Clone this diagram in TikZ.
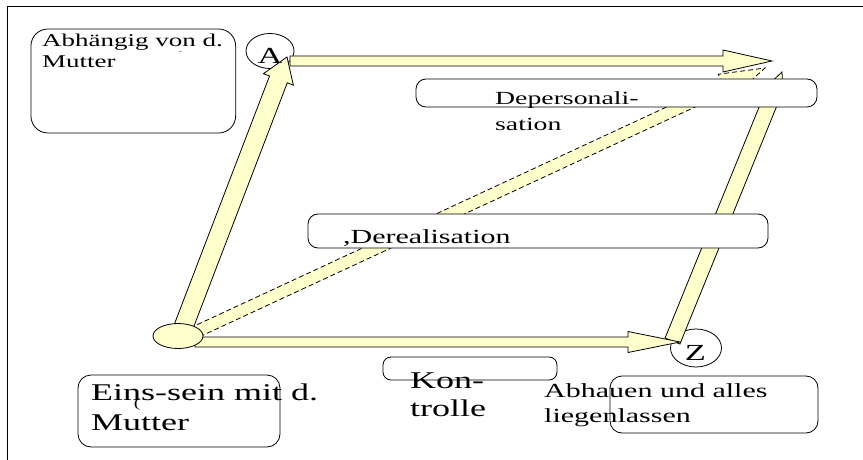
\documentclass[tikz,border=0pt]{standalone}
\usepackage{fontspec}
\setmainfont{Liberation Serif}[FakeStretch=1.5]
\usetikzlibrary{calc,shapes.geometric}
\definecolor{pale}{RGB}{255,255,204}

% Block arrow from #3 to #4: shaft half width #5, head half width #6, head length #7
\newcommand\fatarrow[7]{%
  \coordinate (#2-hb) at ($(#4)!#7!(#3)$);
  \draw[#1] ($(#3)!#5!-90:(#4)$) -- ($(#2-hb)!#5!-90:(#4)$)
    -- ($(#2-hb)!#6!-90:(#4)$) -- (#4) -- ($(#2-hb)!#6!90:(#4)$)
    -- ($(#2-hb)!#5!90:(#4)$) -- ($(#3)!#5!90:(#4)$) -- cycle;
}

\begin{document}
\begin{tikzpicture}[x=1pt,y=-1pt,
  frame/.style={line width=1pt},
  roundbox/.style={draw, line width=0.8pt, fill=white, rectangle, inner sep=0},
  oval/.style={draw, line width=0.8pt, ellipse, inner sep=0},
  fat/.style={draw, line width=0.8pt, fill=pale},
  fatdash/.style={fat, dash pattern=on 5pt off 3pt},
  lbl/.style={inner sep=0, anchor=base west},
  letter/.style={inner sep=0, font=\fontsize{23}{23}\selectfont}]
\useasboundingbox (0,0) rectangle (863,460);

% outer frame (left and top edges)
\draw[frame] (7,460) -- (7,7) -- (863,7);

% end states
\node[oval, minimum width=48pt, minimum height=35pt] (A) at (270,51) {};
\node[oval, minimum width=51pt, minimum height=38pt] (Z) at (696,348) {};

% arrow end points
\coordinate (a1s) at (180,336);   \coordinate (a1e) at (287,57);
\coordinate (a2s) at (290,61);    \coordinate (a2e) at (772,61);
\coordinate (a3s) at (190,334.6); \coordinate (a3e) at (765,68);
\coordinate (a4s) at (195,342);   \coordinate (a4e) at (680,342);
\coordinate (a5s) at (672.5,341); \coordinate (a5e) at (782,72);

% block arrows
\fatarrow{fat}{top}{a2s}{a2e}{5pt}{11pt}{49pt}
\fatarrow{fatdash}{diag}{a3s}{a3e}{6pt}{14pt}{45pt}
\fatarrow{fat}{right}{a5s}{a5e}{8pt}{13pt}{28pt}
\fatarrow{fat}{bottom}{a4s}{a4e}{5pt}{10.5pt}{52pt}
\fatarrow{fat}{left}{a1s}{a1e}{9.5pt}{16pt}{24pt}

% start state
\node[oval, fill=pale, minimum width=50pt, minimum height=25pt] (mom) at (178,336) {};

% letters in the end states
\node[letter] (Atext) at (270,55.5) {A};
\node[letter] (Ztext) at (695.5,352.5) {Z};

% text boxes
\node[roundbox, rounded corners=17pt, minimum width=204.7pt, minimum height=104pt] (boxAbh) at (133.3,81) {};
\node[roundbox, rounded corners=10pt, minimum width=401pt, minimum height=28pt] (boxDep) at (616.5,93) {};
\node[roundbox, rounded corners=10pt, minimum width=460pt, minimum height=34pt] (boxDer) at (538,231) {};
\node[roundbox, rounded corners=8pt, minimum width=174pt, minimum height=23pt] (boxKon) at (470,368.5) {};
\node[roundbox, rounded corners=13pt, minimum width=202pt, minimum height=72pt] (boxEins) at (179,411) {};
\node[roundbox, rounded corners=12pt, minimum width=208pt, minimum height=57pt] (boxAbhau) at (714,404.5) {};

% texts
\begin{scope}[every node/.append style={lbl}]
  \node[font=\fontsize{18}{18}\selectfont] (abh1) at (42,47) {Abhängig von d.};
  \node[font=\fontsize{18}{18}\selectfont] (abh2) at (42,68) {Mutter};
  \node[font=\fontsize{6}{6}\selectfont] (speck) at (179,54) {-};
  \node[font=\fontsize{18.5}{18.5}\selectfont] (dep1) at (495,105) {Depersonali-};
  \node[font=\fontsize{18.5}{18.5}\selectfont] (dep2) at (495,130) {sation};
  \node[font=\fontsize{20}{20}\selectfont] (der) at (343,243) {,Derealisation};
  \node[font=\fontsize{24}{24}\selectfont] (kon1) at (410,388) {Kon-};
  \node[font=\fontsize{24}{24}\selectfont] (kon2) at (410,416) {trolle};
  \node[font=\fontsize{24}{24}\selectfont] (eins1) at (91,400) {Eins-sein mit d.};
  \node[font=\fontsize{24}{24}\selectfont] (eins2) at (91,430) {Mutter};
  \node[font=\fontsize{20}{20}\selectfont] (abhau1) at (544,397) {Abhauen und alles};
  \node[font=\fontsize{20}{20}\selectfont] (abhau2) at (544,422) {liegenlassen};
\end{scope}
\node[inner sep=0, font=\fontsize{13}{13}\selectfont] (paren) at (137,404) {(};
\end{tikzpicture}
\end{document}
